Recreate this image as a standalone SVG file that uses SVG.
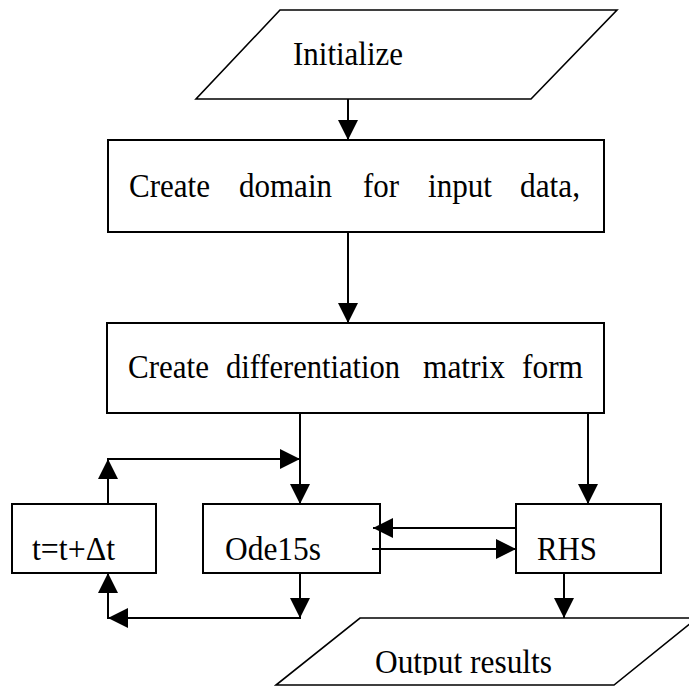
<svg xmlns="http://www.w3.org/2000/svg" width="689" height="686" viewBox="0 0 689 686">
<style>
.shape{fill:#fff;stroke:#000;stroke-width:2}
.para{fill:#fff;stroke:#000;stroke-width:1.6}
.lbl{font-family:"Liberation Serif","Times New Roman",serif;font-size:33px;fill:#000}
.conn line{stroke:#000;stroke-width:2;fill:none}
.arr{marker-end:url(#ah)}
</style>
<defs>
<marker id="ah" markerUnits="userSpaceOnUse" markerWidth="20" markerHeight="20" viewBox="0 0 20 20" refX="20" refY="10" orient="auto">
<path d="M0,0 L20,10 L0,20 Z" fill="#000"/>
</marker>
<clipPath id="clipOut"><rect x="0" y="0" width="689" height="675"/></clipPath>
</defs>
<rect width="689" height="686" fill="#fff"/>
<g id="initialize">
<polygon class="para" points="280,10 617,10 531,99 196,99"/>
<text class="lbl" x="293" y="65" textLength="110" lengthAdjust="spacingAndGlyphs">Initialize</text>
</g>
<g id="create-domain">
<rect class="shape" x="108" y="140" width="496" height="92"/>
<text class="lbl" x="129" y="197" textLength="81" lengthAdjust="spacingAndGlyphs">Create</text>
<text class="lbl" x="239" y="197" textLength="93" lengthAdjust="spacingAndGlyphs">domain</text>
<text class="lbl" x="363" y="197" textLength="36" lengthAdjust="spacingAndGlyphs">for</text>
<text class="lbl" x="428" y="197" textLength="64" lengthAdjust="spacingAndGlyphs">input</text>
<text class="lbl" x="520" y="197" textLength="60" lengthAdjust="spacingAndGlyphs">data,</text>
</g>
<g id="create-matrix">
<rect class="shape" x="107" y="323" width="497" height="90"/>
<text class="lbl" x="128" y="378" textLength="81" lengthAdjust="spacingAndGlyphs">Create</text>
<text class="lbl" x="226" y="378" textLength="174" lengthAdjust="spacingAndGlyphs">differentiation</text>
<text class="lbl" x="423" y="378" textLength="82" lengthAdjust="spacingAndGlyphs">matrix</text>
<text class="lbl" x="522" y="378" textLength="61" lengthAdjust="spacingAndGlyphs">form</text>
</g>
<g id="time-step">
<rect class="shape" x="12" y="504" width="144" height="69"/>
<text class="lbl" x="32" y="560" textLength="83" lengthAdjust="spacingAndGlyphs">t=t+Δt</text>
</g>
<g id="ode15s">
<rect class="shape" x="203" y="504" width="177" height="69"/>
<text class="lbl" x="225" y="560" textLength="96" lengthAdjust="spacingAndGlyphs">Ode15s</text>
</g>
<g id="rhs">
<rect class="shape" x="516" y="504" width="145" height="69"/>
<text class="lbl" x="537" y="560" textLength="60" lengthAdjust="spacingAndGlyphs">RHS</text>
</g>
<g id="output">
<polygon class="para" points="360,618 697,618 614,685 276,685"/>
<text class="lbl" x="375" y="673" textLength="177" lengthAdjust="spacingAndGlyphs" clip-path="url(#clipOut)">Output results</text>
</g>
<g id="connectors" class="conn">
<line class="arr" x1="348" y1="99" x2="348" y2="140"/>
<line class="arr" x1="348" y1="232" x2="348" y2="323"/>
<line class="arr" x1="300" y1="413" x2="300" y2="504"/>
<line class="arr" x1="588" y1="413" x2="588" y2="504"/>
<line class="arr" x1="108" y1="504" x2="108" y2="459"/>
<line class="arr" x1="107" y1="459" x2="300" y2="459"/>
<line class="arr" x1="516" y1="528" x2="373" y2="528"/>
<line class="arr" x1="372" y1="549" x2="516" y2="549"/>
<line class="arr" x1="300" y1="573" x2="300" y2="618"/>
<line class="arr" x1="301" y1="618" x2="108" y2="618"/>
<line class="arr" x1="108" y1="619" x2="108" y2="573"/>
<line class="arr" x1="564" y1="573" x2="564" y2="618"/>
</g>
</svg>
